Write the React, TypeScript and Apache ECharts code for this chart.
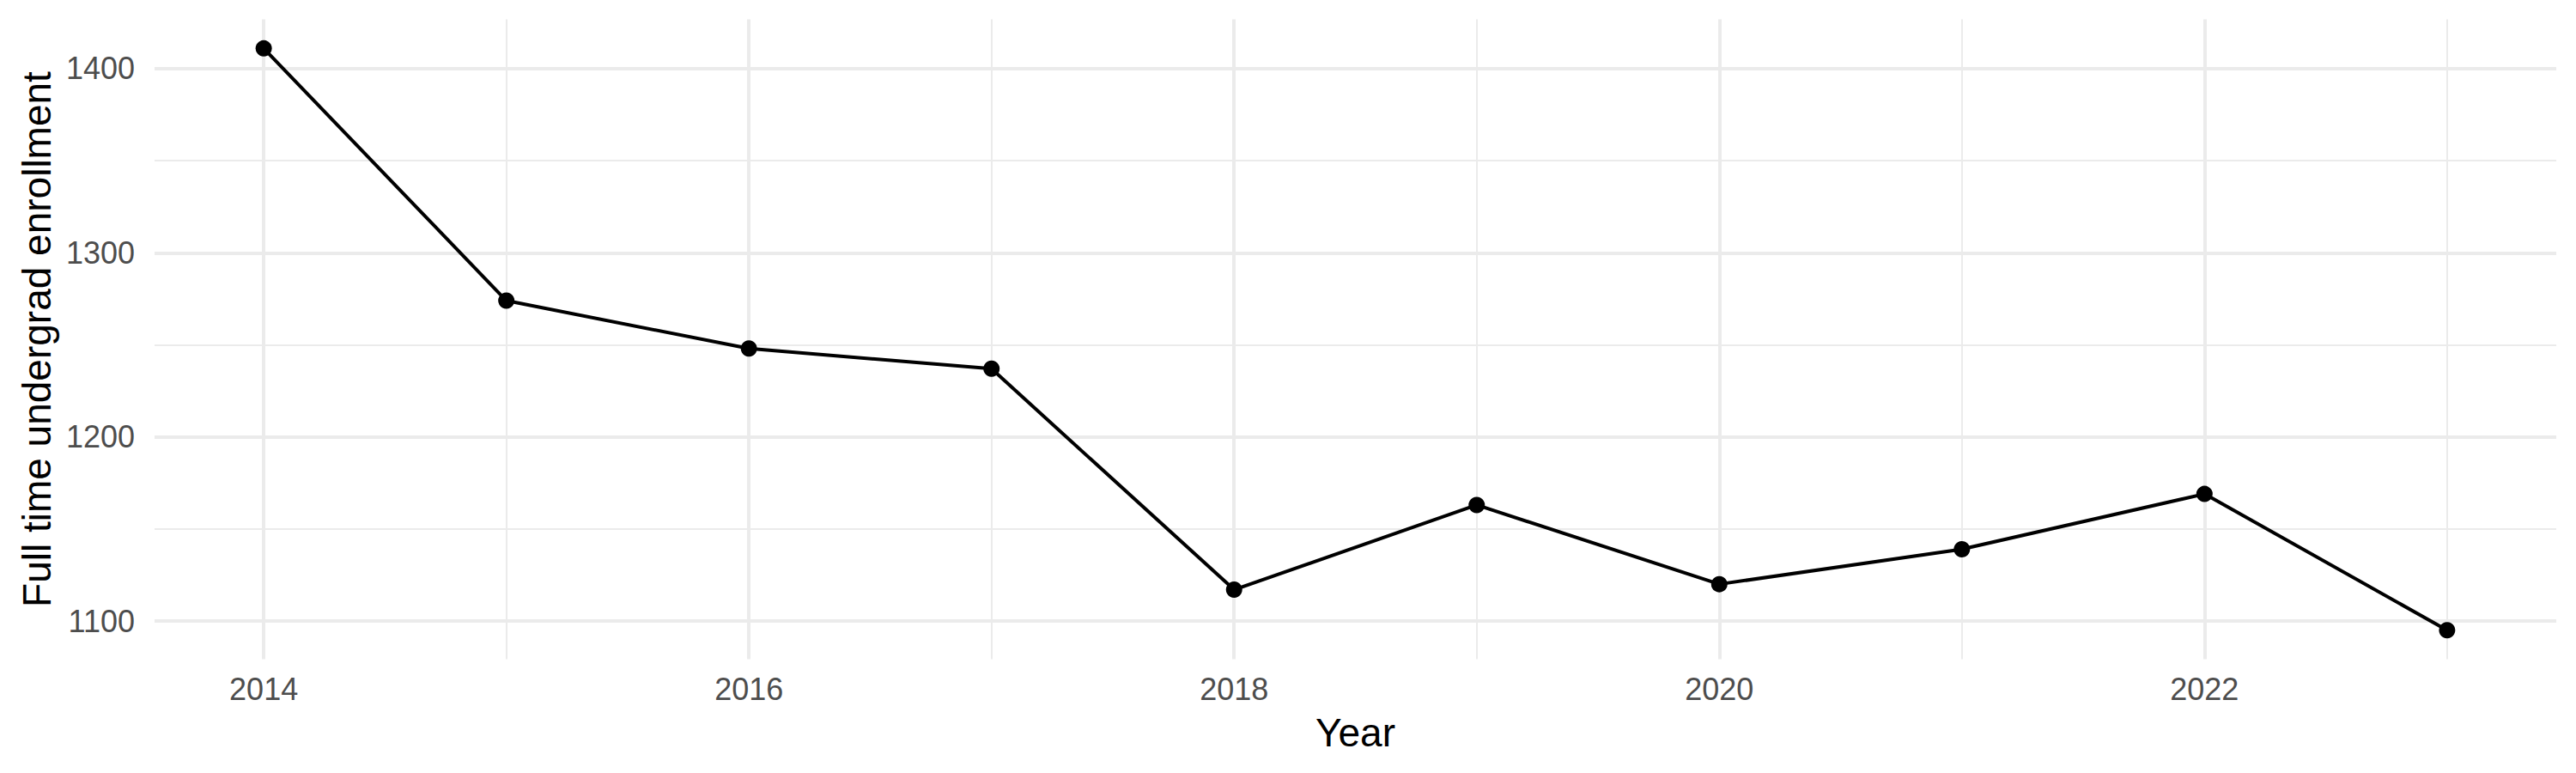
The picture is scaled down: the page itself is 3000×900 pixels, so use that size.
import React, { useEffect, useRef } from 'react'
import * as echarts from 'echarts'

// enrollment per year
const years = [2014, 2015, 2016, 2017, 2018, 2019, 2020, 2021, 2022, 2023]
const enrollment = [1411, 1274, 1248, 1237, 1117, 1163, 1120, 1139, 1169, 1095]

const xTitle = 'Year'
const yTitle = 'Full time undergrad enrollment'

const FONT = '"Liberation Sans", Arial, Helvetica, sans-serif'
const GRID_COLOR = '#EBEBEB'

// ggplot-like 5% expansion of the data range
const expand = (vals: number[]) => {
  const lo = Math.min(...vals)
  const hi = Math.max(...vals)
  const pad = (hi - lo) * 0.05
  return [lo - pad, hi + pad]
}

const App: React.FC = () => {
  const chartRef = useRef<HTMLDivElement>(null)

  useEffect(() => {
    if (!chartRef.current) return
    document.body.style.margin = '0'

    const chart = echarts.init(chartRef.current, undefined, { renderer: 'svg' })
    const [xMin, xMax] = expand(years)
    const [yMin, yMax] = expand(enrollment)

    chart.setOption({
      animation: false,
      backgroundColor: '#ffffff',
      grid: {
        left: 180,
        right: 23,
        top: 22.5,
        bottom: 132.4,
        containLabel: false,
      },
      xAxis: {
        type: 'value',
        min: xMin,
        max: xMax,
        minInterval: 2,
        maxInterval: 2,
        name: xTitle,
        nameLocation: 'middle',
        nameGap: 62,
        nameTextStyle: { color: '#000000', fontSize: 46, fontFamily: FONT },
        axisLine: { show: false },
        axisTick: { show: false },
        axisLabel: {
          color: '#4D4D4D',
          fontSize: 36,
          fontFamily: FONT,
          margin: 17,
          showMinLabel: false,
          showMaxLabel: false,
          formatter: (v: number) => String(v),
        },
        splitLine: {
          show: true,
          showMinLine: false,
          showMaxLine: false,
          lineStyle: { color: GRID_COLOR, width: 4 },
        },
        minorTick: { show: false, splitNumber: 2 },
        minorSplitLine: { show: true, lineStyle: { color: GRID_COLOR, width: 2 } },
      },
      yAxis: {
        type: 'value',
        min: yMin,
        max: yMax,
        minInterval: 100,
        maxInterval: 100,
        name: yTitle,
        nameLocation: 'middle',
        nameGap: 114,
        nameTextStyle: { color: '#000000', fontSize: 46, fontFamily: FONT },
        axisLine: { show: false },
        axisTick: { show: false },
        axisLabel: {
          color: '#4D4D4D',
          fontSize: 36,
          fontFamily: FONT,
          margin: 23,
          showMinLabel: false,
          showMaxLabel: false,
          formatter: (v: number) => String(v),
        },
        splitLine: {
          show: true,
          showMinLine: false,
          showMaxLine: false,
          lineStyle: { color: GRID_COLOR, width: 4 },
        },
        minorTick: { show: false, splitNumber: 2 },
        minorSplitLine: { show: true, lineStyle: { color: GRID_COLOR, width: 2 } },
      },
      series: [
        {
          type: 'line',
          data: years.map((y, i) => [y, enrollment[i]]),
          lineStyle: { color: '#000000', width: 4 },
          itemStyle: { color: '#000000' },
          symbol: 'circle',
          symbolSize: 19,
          showAllSymbol: true,
          silent: true,
        },
      ],
    })

    return () => {
      chart.dispose()
    }
  }, [])

  return <div ref={chartRef} style={{ width: 3000, height: 900 }} />
}

export default App
